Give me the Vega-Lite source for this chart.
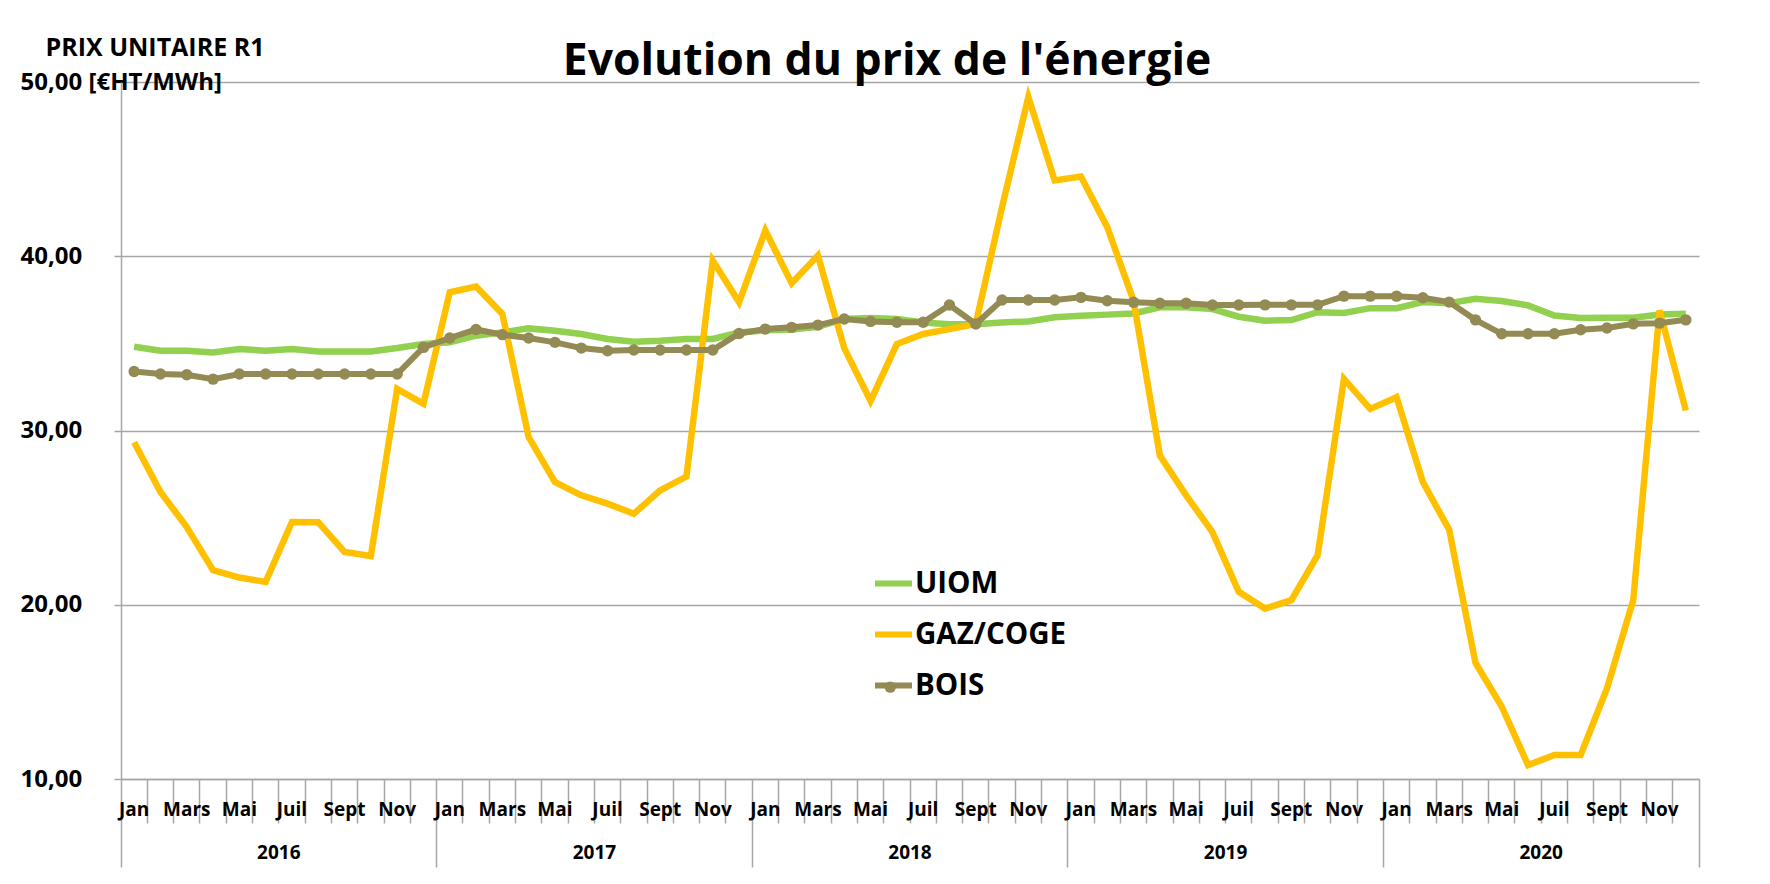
{
  "$schema": "https://vega.github.io/schema/vega-lite/v6.json",
  "width": 1578,
  "height": 697,
  "autosize": {"type": "none"},
  "padding": {"left": 121, "top": 82, "right": 71, "bottom": 105},
  "background": "#FFFFFF",
  "title": {"text": "Evolution du prix de l'énergie", "font": "Open Sans", "fontSize": 44.5, "fontWeight": "bold", "color": "#000000", "anchor": "middle", "frame": "group", "dx": -23, "baseline": "alphabetic", "offset": -84},
  "config": {"view": {"stroke": null}, "font": "Open Sans"},
  "datasets": {
    "prix": [
      {"mois": "2016-01", "UIOM": 34.81, "GAZ/COGE": 29.33, "BOIS": 33.39},
      {"mois": "2016-02", "UIOM": 34.58, "GAZ/COGE": 26.47, "BOIS": 33.24},
      {"mois": "2016-03", "UIOM": 34.58, "GAZ/COGE": 24.46, "BOIS": 33.2},
      {"mois": "2016-04", "UIOM": 34.48, "GAZ/COGE": 21.98, "BOIS": 32.95},
      {"mois": "2016-05", "UIOM": 34.67, "GAZ/COGE": 21.56, "BOIS": 33.24},
      {"mois": "2016-06", "UIOM": 34.58, "GAZ/COGE": 21.31, "BOIS": 33.24},
      {"mois": "2016-07", "UIOM": 34.67, "GAZ/COGE": 24.75, "BOIS": 33.24},
      {"mois": "2016-08", "UIOM": 34.54, "GAZ/COGE": 24.73, "BOIS": 33.24},
      {"mois": "2016-09", "UIOM": 34.54, "GAZ/COGE": 23.03, "BOIS": 33.24},
      {"mois": "2016-10", "UIOM": 34.54, "GAZ/COGE": 22.8, "BOIS": 33.24},
      {"mois": "2016-11", "UIOM": 34.73, "GAZ/COGE": 32.39, "BOIS": 33.24},
      {"mois": "2016-12", "UIOM": 34.96, "GAZ/COGE": 31.53, "BOIS": 34.77},
      {"mois": "2017-01", "UIOM": 35.06, "GAZ/COGE": 37.93, "BOIS": 35.31},
      {"mois": "2017-02", "UIOM": 35.44, "GAZ/COGE": 38.26, "BOIS": 35.8},
      {"mois": "2017-03", "UIOM": 35.63, "GAZ/COGE": 36.69, "BOIS": 35.5},
      {"mois": "2017-04", "UIOM": 35.86, "GAZ/COGE": 29.62, "BOIS": 35.31},
      {"mois": "2017-05", "UIOM": 35.73, "GAZ/COGE": 27.04, "BOIS": 35.06},
      {"mois": "2017-06", "UIOM": 35.54, "GAZ/COGE": 26.28, "BOIS": 34.73},
      {"mois": "2017-07", "UIOM": 35.25, "GAZ/COGE": 25.8, "BOIS": 34.58},
      {"mois": "2017-08", "UIOM": 35.1, "GAZ/COGE": 25.22, "BOIS": 34.62},
      {"mois": "2017-09", "UIOM": 35.15, "GAZ/COGE": 26.56, "BOIS": 34.62},
      {"mois": "2017-10", "UIOM": 35.25, "GAZ/COGE": 27.36, "BOIS": 34.62},
      {"mois": "2017-11", "UIOM": 35.25, "GAZ/COGE": 39.75, "BOIS": 34.62},
      {"mois": "2017-12", "UIOM": 35.63, "GAZ/COGE": 37.36, "BOIS": 35.57},
      {"mois": "2018-01", "UIOM": 35.75, "GAZ/COGE": 41.48, "BOIS": 35.82},
      {"mois": "2018-02", "UIOM": 35.8, "GAZ/COGE": 38.45, "BOIS": 35.92},
      {"mois": "2018-03", "UIOM": 35.95, "GAZ/COGE": 40.04, "BOIS": 36.05},
      {"mois": "2018-04", "UIOM": 36.4, "GAZ/COGE": 34.73, "BOIS": 36.4},
      {"mois": "2018-05", "UIOM": 36.45, "GAZ/COGE": 31.7, "BOIS": 36.26},
      {"mois": "2018-06", "UIOM": 36.4, "GAZ/COGE": 34.96, "BOIS": 36.21},
      {"mois": "2018-07", "UIOM": 36.2, "GAZ/COGE": 35.54, "BOIS": 36.21},
      {"mois": "2018-08", "UIOM": 36.1, "GAZ/COGE": 35.82, "BOIS": 37.2},
      {"mois": "2018-09", "UIOM": 36.1, "GAZ/COGE": 36.11, "BOIS": 36.11},
      {"mois": "2018-10", "UIOM": 36.2, "GAZ/COGE": 42.82, "BOIS": 37.49},
      {"mois": "2018-11", "UIOM": 36.26, "GAZ/COGE": 49.14, "BOIS": 37.49},
      {"mois": "2018-12", "UIOM": 36.5, "GAZ/COGE": 44.35, "BOIS": 37.49},
      {"mois": "2019-01", "UIOM": 36.59, "GAZ/COGE": 44.58, "BOIS": 37.64},
      {"mois": "2019-02", "UIOM": 36.65, "GAZ/COGE": 41.67, "BOIS": 37.45},
      {"mois": "2019-03", "UIOM": 36.72, "GAZ/COGE": 37.45, "BOIS": 37.36},
      {"mois": "2019-04", "UIOM": 37.07, "GAZ/COGE": 28.57, "BOIS": 37.3},
      {"mois": "2019-05", "UIOM": 37.07, "GAZ/COGE": 26.28, "BOIS": 37.3},
      {"mois": "2019-06", "UIOM": 36.97, "GAZ/COGE": 24.17, "BOIS": 37.2},
      {"mois": "2019-07", "UIOM": 36.53, "GAZ/COGE": 20.74, "BOIS": 37.2},
      {"mois": "2019-08", "UIOM": 36.3, "GAZ/COGE": 19.78, "BOIS": 37.21},
      {"mois": "2019-09", "UIOM": 36.34, "GAZ/COGE": 20.26, "BOIS": 37.21},
      {"mois": "2019-10", "UIOM": 36.79, "GAZ/COGE": 22.84, "BOIS": 37.21},
      {"mois": "2019-11", "UIOM": 36.74, "GAZ/COGE": 32.96, "BOIS": 37.71},
      {"mois": "2019-12", "UIOM": 37.02, "GAZ/COGE": 31.24, "BOIS": 37.71},
      {"mois": "2020-01", "UIOM": 37.02, "GAZ/COGE": 31.91, "BOIS": 37.71},
      {"mois": "2020-02", "UIOM": 37.37, "GAZ/COGE": 27.04, "BOIS": 37.62},
      {"mois": "2020-03", "UIOM": 37.31, "GAZ/COGE": 24.31, "BOIS": 37.37},
      {"mois": "2020-04", "UIOM": 37.56, "GAZ/COGE": 16.67, "BOIS": 36.35},
      {"mois": "2020-05", "UIOM": 37.43, "GAZ/COGE": 14.15, "BOIS": 35.55},
      {"mois": "2020-06", "UIOM": 37.18, "GAZ/COGE": 10.8, "BOIS": 35.55},
      {"mois": "2020-07", "UIOM": 36.6, "GAZ/COGE": 11.38, "BOIS": 35.55},
      {"mois": "2020-08", "UIOM": 36.45, "GAZ/COGE": 11.38, "BOIS": 35.78},
      {"mois": "2020-09", "UIOM": 36.47, "GAZ/COGE": 15.2, "BOIS": 35.88},
      {"mois": "2020-10", "UIOM": 36.47, "GAZ/COGE": 20.26, "BOIS": 36.12},
      {"mois": "2020-11", "UIOM": 36.66, "GAZ/COGE": 36.89, "BOIS": 36.16},
      {"mois": "2020-12", "UIOM": 36.7, "GAZ/COGE": 31.15, "BOIS": 36.35}
    ]
  },
  "data": {"name": "prix"},
  "transform": [{"fold": ["UIOM", "GAZ/COGE", "BOIS"], "as": ["serie", "valeur"]}],
  "layer": [
    {
      "transform": [{"filter": "datum.serie != 'BOIS'"}],
      "mark": {"type": "line", "strokeWidth": 6.5},
      "encoding": {
        "x": {
          "field": "mois", "type": "ordinal", "bandPosition": 0.5,
          "scale": {"type": "band", "paddingInner": 0, "paddingOuter": 0},
          "axis": {
            "orient": "bottom", "title": null, "bandPosition": 1, "labels": false, "grid": false,
            "domain": true, "domainColor": "#A6A6A6", "domainWidth": 1.5,
            "ticks": true, "tickColor": "#A6A6A6", "tickWidth": 1.5,
            "tickSize": {"condition": {"test": "substring(datum.value,5,7)=='12'", "value": 88}, "value": 44}
          }
        },
        "y": {
          "field": "valeur", "type": "quantitative",
          "scale": {"domain": [10, 50], "nice": false, "zero": false},
          "axis": {
            "title": "PRIX UNITAIRE R1", "titleAngle": 0, "titleAlign": "left", "titleBaseline": "middle",
            "titleX": -76, "titleY": -34.5, "titleFont": "Open Sans", "titleFontSize": 25, "titleFontWeight": "bold", "titleColor": "#000000", "titleLimit": 400,
            "values": [10, 20, 30, 40, 50], "grid": true, "gridColor": "#A6A6A6", "gridWidth": 1.5,
            "domain": true, "domainColor": "#A6A6A6", "domainWidth": 1.5,
            "ticks": true, "tickSize": 7, "tickColor": "#A6A6A6", "tickWidth": 1.5,
            "labelAlign": "left", "labelBaseline": "middle", "labelPadding": 94, "labelLimit": 400,
            "labelFont": "Open Sans", "labelFontSize": 24, "labelFontWeight": "bold", "labelColor": "#000000",
            "labelExpr": "datum.value == 50 ? '50,00 [€HT/MWh]' : replace(format(datum.value, '.2f'), '.', ',')"
          }
        },
        "color": {
          "field": "serie", "type": "nominal",
          "scale": {"domain": ["UIOM", "GAZ/COGE", "BOIS"], "range": ["#92D050", "#FFC000", "#948A54"]},
          "legend": {"orient": "none", "legendX": 751, "legendY": 480, "title": null, "symbolType": "stroke", "symbolStrokeWidth": 6, "symbolSize": 1369, "labelFont": "Open Sans", "labelFontSize": 29.5, "labelFontWeight": "bold", "labelColor": "#000000", "labelOffset": 0, "rowPadding": 15, "padding": 0, "labelLimit": 400}
        }
      }
    },
    {
      "transform": [{"filter": "datum.serie == 'BOIS'"}],
      "mark": {"type": "line", "strokeWidth": 6},
      "encoding": {
        "x": {
          "field": "mois", "type": "ordinal", "bandPosition": 0.5,
          "scale": {"type": "band", "paddingInner": 0, "paddingOuter": 0},
          "axis": {"orient": "bottom", "title": null, "bandPosition": 0, "values": ["2016-01"], "labels": false, "grid": false, "domain": false, "ticks": true, "tickSize": 88, "tickColor": "#A6A6A6", "tickWidth": 1.5}
        },
        "y": {"field": "valeur", "type": "quantitative", "scale": {"domain": [10, 50], "nice": false, "zero": false}, "axis": null},
        "color": {
          "field": "serie", "type": "nominal",
          "scale": {"domain": ["UIOM", "GAZ/COGE", "BOIS"], "range": ["#92D050", "#FFC000", "#948A54"]},
          "legend": {"orient": "none", "legendX": 751, "legendY": 480, "title": null, "symbolType": "stroke", "symbolStrokeWidth": 6, "symbolSize": 1369, "labelFont": "Open Sans", "labelFontSize": 29.5, "labelFontWeight": "bold", "labelColor": "#000000", "labelOffset": 0, "rowPadding": 15, "padding": 0, "labelLimit": 400}
        }
      }
    },
    {
      "transform": [{"filter": "datum.serie == 'BOIS'"}],
      "mark": {"type": "point", "filled": true, "size": 130, "opacity": 1},
      "encoding": {
        "x": {
          "field": "mois", "type": "ordinal", "bandPosition": 0.5,
          "scale": {"type": "band", "paddingInner": 0, "paddingOuter": 0},
          "axis": {
            "orient": "bottom", "title": null, "bandPosition": 0.5, "ticks": false, "domain": false, "grid": false,
            "labelOverlap": false, "labelBound": false, "labelAngle": 0,
            "labelFont": "Open Sans", "labelFontSize": 19, "labelFontWeight": "bold", "labelColor": "#000000",
            "labelBaseline": "middle", "labelAlign": "center",
            "labelPadding": {"condition": {"test": "substring(datum.value,5,7)=='06'", "value": 73}, "value": 30.5},
            "labelOffset": {"condition": {"test": "substring(datum.value,5,7)=='06'", "value": 13.15}, "value": 0},
            "labelExpr": "substring(datum.value,5,7)=='01' ? 'Jan' : substring(datum.value,5,7)=='03' ? 'Mars' : substring(datum.value,5,7)=='05' ? 'Mai' : substring(datum.value,5,7)=='07' ? 'Juil' : substring(datum.value,5,7)=='09' ? 'Sept' : substring(datum.value,5,7)=='11' ? 'Nov' : substring(datum.value,5,7)=='06' ? substring(datum.value,0,4) : ''"
          }
        },
        "y": {"field": "valeur", "type": "quantitative", "scale": {"domain": [10, 50], "nice": false, "zero": false}, "axis": null},
        "fill": {
          "field": "serie", "type": "nominal",
          "scale": {"domain": ["BOIS"], "range": ["#948A54"]},
          "legend": {"orient": "none", "legendX": 754.5, "legendY": 590.4, "title": null, "symbolType": "circle", "symbolSize": 130, "symbolStrokeWidth": 0, "labelExpr": "''", "labelFontSize": 29.5, "padding": 0}
        }
      }
    }
  ],
  "resolve": {"axis": {"x": "independent", "y": "independent"}}
}
